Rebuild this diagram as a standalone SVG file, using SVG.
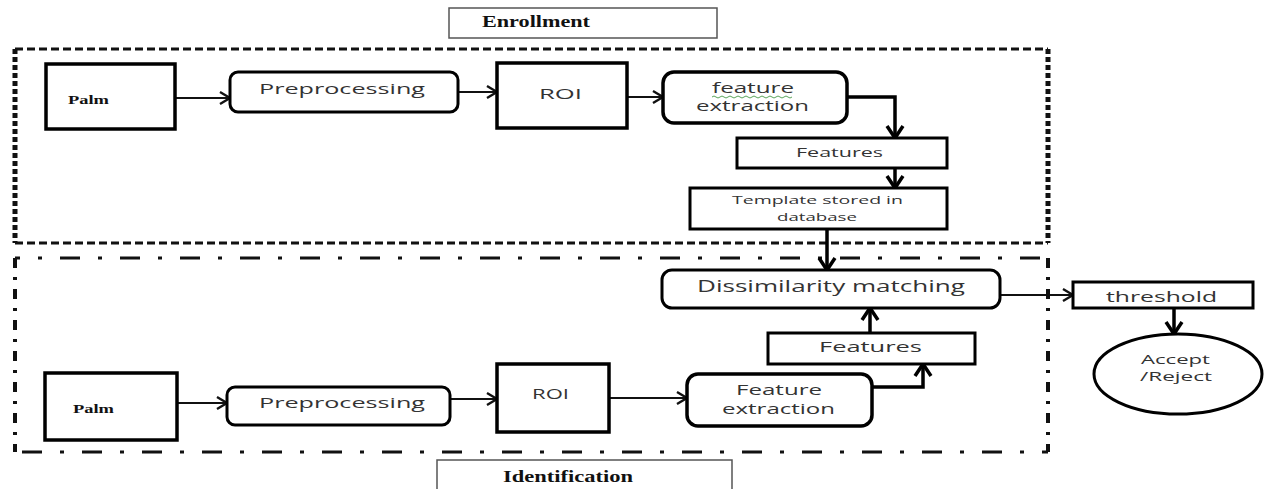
<svg xmlns="http://www.w3.org/2000/svg" width="1264" height="489" viewBox="0 0 1264 489">
<style>
.bx{fill:#fff;stroke:#000;stroke-width:3.5}
.bx3{fill:#fff;stroke:#000;stroke-width:3}
.lbl{fill:#fff;stroke:#555;stroke-width:1.5}
.serif{font-family:"Liberation Serif","Times New Roman",serif;font-weight:bold;fill:#111}
.sans{font-family:"Open Sans","Noto Sans","DejaVu Sans",sans-serif;fill:#333}
.thin{fill:none;stroke:#111;stroke-width:2.2;marker-end:url(#ah)}
.thick{fill:none;stroke:#000;stroke-width:3.5;marker-end:url(#ahb)}
.frA{fill:none;stroke:#111;stroke-width:3;stroke-dasharray:8 4}
.frAs{fill:none;stroke:#111;stroke-width:5;stroke-dasharray:5 3}
.frB{fill:none;stroke:#111;stroke-width:3;stroke-dasharray:20 18 4 18}
.frBs{fill:none;stroke:#111;stroke-width:4;stroke-dasharray:10 9 3 9}
</style>
<defs>
<marker id="ah" markerUnits="userSpaceOnUse" markerWidth="16" markerHeight="16" refX="13" refY="8" orient="auto">
<path d="M3,2 L13,8 L3,14" fill="none" stroke="#111" stroke-width="2.4"/>
</marker>
<marker id="ahb" markerUnits="userSpaceOnUse" markerWidth="22" markerHeight="22" refX="16" refY="11" orient="auto">
<path d="M4,3 L16,11 L4,19" fill="none" stroke="#000" stroke-width="3.5"/>
</marker>
</defs>
<rect width="1264" height="489" fill="#fff"/>

<g id="frames">
<path class="frA" d="M15,49 H1048 M15,243 H1048"/>
<path class="frAs" d="M15,49 V243 M1048,49 V243"/>
<path class="frB" stroke-dashoffset="15" d="M15,258 H1048"/>
<path class="frB" stroke-dashoffset="53" d="M15,452 H1048"/>
<path class="frBs" d="M15,258 V452 M1048,258 V452"/>
</g>

<g id="enrollment-label">
<rect class="lbl" x="449" y="8" width="268" height="30"/>
<text class="serif" x="482" y="27" font-size="16" textLength="108" lengthAdjust="spacingAndGlyphs">Enrollment</text>
</g>
<g id="identification-label">
<rect class="lbl" x="437" y="460" width="295" height="40"/>
<text class="serif" x="503" y="482" font-size="16" textLength="130" lengthAdjust="spacingAndGlyphs">Identification</text>
</g>

<g id="connectors">
<path class="thin" d="M175,98 H230"/>
<path class="thin" d="M458,92 H497"/>
<path class="thin" d="M627,97 H663"/>
<path class="thick" d="M847,97 H895 V138"/>
<path class="thick" d="M895,168 V188"/>
<path class="thick" d="M827,229 V270"/>
<path class="thick" d="M870,333 V308"/>
<path class="thick" d="M872,387 H923 V364"/>
<path class="thin" d="M1000,295 H1073"/>
<path class="thick" d="M1174,308 V334"/>
<path class="thin" d="M177,403 H227"/>
<path class="thin" d="M450,399 H497"/>
<path class="thin" d="M609,398 H687"/>
</g>

<g id="palm1">
<rect class="bx" x="46" y="64" width="129" height="65"/>
<text class="serif" x="68" y="104" font-size="13" textLength="41" lengthAdjust="spacingAndGlyphs">Palm</text>
</g>
<g id="pre1">
<rect class="bx3" x="230" y="72" width="228" height="40" rx="8"/>
<text class="sans" x="259" y="94" font-size="15" textLength="166" lengthAdjust="spacingAndGlyphs">Preprocessing</text>
</g>
<g id="roi1">
<rect class="bx" x="497" y="63" width="130" height="65"/>
<text class="sans" x="539" y="99" font-size="14" textLength="43" lengthAdjust="spacingAndGlyphs">ROI</text>
</g>
<g id="fe1">
<rect class="bx" x="663" y="72" width="184" height="51" rx="11"/>
<text class="sans" x="712" y="93" font-size="14" textLength="82" lengthAdjust="spacingAndGlyphs">feature</text>
<path d="M712,97 q2,-2 4,0 t4,0 t4,0 t4,0 t4,0 t4,0 t4,0 t4,0 t4,0 t4,0 t4,0 t4,0 t4,0 t4,0 t4,0 t4,0 t4,0 t4,0 t4,0 t4,0" fill="none" stroke="#5aa55a" stroke-width="1"/>
<text class="sans" x="696" y="111" font-size="14" textLength="113" lengthAdjust="spacingAndGlyphs">extraction</text>
</g>
<g id="features1">
<rect class="bx3" x="737" y="138" width="210" height="30"/>
<text class="sans" x="796" y="157" font-size="13" textLength="87" lengthAdjust="spacingAndGlyphs">Features</text>
</g>
<g id="template">
<rect class="bx3" x="690" y="188" width="257" height="41"/>
<text class="sans" x="732" y="204" font-size="11.5" textLength="171" lengthAdjust="spacingAndGlyphs">Template stored in</text>
<text class="sans" x="777" y="221" font-size="11.5" textLength="80" lengthAdjust="spacingAndGlyphs">database</text>
</g>
<g id="dissimilarity">
<rect class="bx3" x="662" y="270" width="338" height="38" rx="10"/>
<text class="sans" x="697" y="292" font-size="17" textLength="268" lengthAdjust="spacingAndGlyphs">Dissimilarity matching</text>
</g>
<g id="features2">
<rect class="bx3" x="768" y="333" width="207" height="31"/>
<text class="sans" x="819" y="352" font-size="14" textLength="103" lengthAdjust="spacingAndGlyphs">Features</text>
</g>
<g id="fe2">
<rect class="bx" x="687" y="374" width="185" height="52" rx="11"/>
<text class="sans" x="736" y="395" font-size="14.5" textLength="86" lengthAdjust="spacingAndGlyphs">Feature</text>
<text class="sans" x="722" y="414" font-size="14.5" textLength="113" lengthAdjust="spacingAndGlyphs">extraction</text>
</g>
<g id="palm2">
<rect class="bx" x="45" y="373" width="132" height="67"/>
<text class="serif" x="73" y="413" font-size="13" textLength="41" lengthAdjust="spacingAndGlyphs">Palm</text>
</g>
<g id="pre2">
<rect class="bx3" x="227" y="387" width="223" height="38" rx="8"/>
<text class="sans" x="259" y="408" font-size="15" textLength="166" lengthAdjust="spacingAndGlyphs">Preprocessing</text>
</g>
<g id="roi2">
<rect class="bx" x="497" y="364" width="112" height="68"/>
<text class="sans" x="532" y="399" font-size="14" textLength="37" lengthAdjust="spacingAndGlyphs">ROI</text>
</g>
<g id="threshold">
<rect class="bx3" x="1073" y="282" width="180" height="26"/>
<text class="sans" x="1106" y="302" font-size="15" textLength="111" lengthAdjust="spacingAndGlyphs">threshold</text>
</g>
<g id="accept-reject">
<ellipse class="bx3" cx="1178" cy="374" rx="84" ry="40"/>
<text class="sans" x="1141" y="364" font-size="12.5" textLength="69" lengthAdjust="spacingAndGlyphs">Accept</text>
<text class="sans" x="1140" y="381" font-size="12.5" textLength="72" lengthAdjust="spacingAndGlyphs">/Reject</text>
</g>
</svg>
